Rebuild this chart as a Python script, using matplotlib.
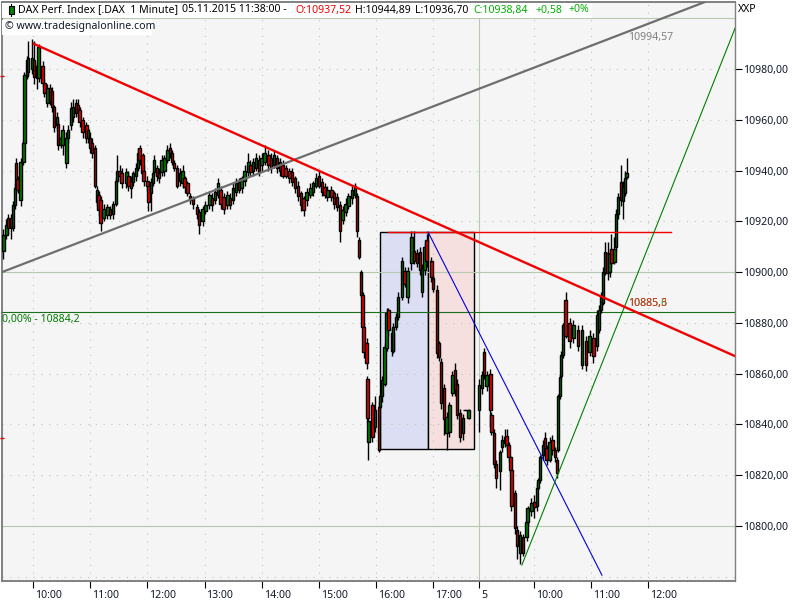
import matplotlib
matplotlib.use('Agg')
import matplotlib.pyplot as plt
from matplotlib.lines import Line2D
from matplotlib.patches import Rectangle
from matplotlib.transforms import ScaledTranslation

plt.rcParams['font.family'] = ['Noto Sans', 'DejaVu Sans']
plt.rcParams['font.size'] = 7.6

# Candles, x = minutes after 10:00 on the bar axis
minutes = [-31, -28, -26, -23, -21, -19, -18, -16, -13, -10, -9, -6, -5, -1, 1, 4, 6, 10, 12, 15,
           18, 20, 22, 25, 26, 29, 31, 35, 37, 40, 42, 45, 47, 49, 52, 56, 58, 60, 62, 65,
           67, 69, 71, 74, 78, 81, 84, 87, 88, 91, 93, 98, 100, 103, 105, 108, 110, 112, 115, 116,
           120, 121, 124, 126, 127, 130, 132, 135, 138, 141, 144, 146, 148, 151, 154, 157, 159, 162, 165, 168,
           172, 174, 178, 181, 185, 188, 191, 194, 197, 200, 204, 207, 210, 213, 216, 219, 222, 226, 228, 231,
           234, 237, 240, 243, 247, 250, 253, 256, 259, 262, 265, 269, 272, 275, 278, 281, 284, 287, 291, 294,
           297, 300, 303, 306, 309, 313, 316, 319, 322, 325, 328, 331, 335, 338, 340, 342, 344, 346, 347, 350,
           351, 352, 356, 359, 363, 364, 366, 369, 371, 373, 377, 378, 381, 383, 387, 390, 393, 397, 400, 403,
           406, 408, 411, 413, 418, 420, 424, 426, 428, 431, 434, 437, 440, 443, 445, 448, 451, 453, 455, 457,
           468, 471, 473, 476, 480, 481, 484, 486, 490, 492, 495, 497, 499, 501, 502, 506, 508, 511, 514, 518,
           519, 523, 526, 529, 530, 532, 535, 537, 539, 542, 545, 548, 550, 551, 553, 554, 556, 559, 563, 567,
           572, 576, 580, 584, 588, 592, 594, 596, 598, 600, 603, 605, 607, 610, 612, 614, 617, 619, 621, 623]

opens = [10908.5, 10914.5, 10921.5, 10921.5, 10917.5, 10926.5, 10943, 10936.5, 10928.5, 10943.5, 10951, 10977.5, 10979, 10980, 10983.5, 10981, 10976.5, 10981, 10974.5, 10966.5,
         10972.5, 10971.5, 10965, 10958, 10958.5, 10950, 10950, 10943, 10953, 10958, 10961, 10966.5, 10966, 10964, 10960, 10958, 10953, 10953, 10951, 10949,
         10927.5, 10930.5, 10928.5, 10921.5, 10922.5, 10925, 10923, 10927, 10936, 10940, 10939, 10935, 10938, 10936, 10935.5, 10938, 10941, 10949, 10946, 10940,
         10936, 10934, 10931, 10935, 10939.5, 10941, 10939, 10939.5, 10940, 10944, 10949, 10947, 10943, 10941, 10936, 10935, 10937, 10935, 10930, 10929,
         10925.5, 10923.5, 10920, 10924, 10926.5, 10929, 10928.5, 10930.5, 10932.5, 10929.5, 10926.5, 10929, 10928.5, 10931.5, 10935.5, 10933, 10936, 10939.5, 10942, 10940,
         10941, 10944, 10942, 10943.5, 10946, 10945, 10942, 10945, 10943.5, 10942, 10941, 10940, 10939.5, 10937, 10934, 10931, 10929, 10928.5, 10930.5, 10931.5,
         10934, 10938, 10935.5, 10933.5, 10929.5, 10932.5, 10931, 10929.5, 10926.5, 10920.5, 10923.5, 10926, 10929, 10930.5, 10930, 10912.5, 10900, 10891, 10878.5, 10872,
         10858, 10833, 10847.5, 10839, 10847, 10847, 10851, 10856, 10870, 10885, 10876, 10869, 10878.5, 10882.5, 10890, 10900.5, 10890, 10903.5, 10908.5, 10907.5,
         10908, 10892, 10901, 10912.5, 10904.5, 10897.5, 10893, 10872, 10864.5, 10854.5, 10836.5, 10837, 10852.5, 10861.5, 10856, 10844.5, 10836.5, 10845.5, 10845.5, 10842.5,
         10845.5, 10854.5, 10868.5, 10855, 10860, 10843.5, 10836.5, 10824.5, 10821.5, 10831, 10832.5, 10835.5, 10832, 10827, 10822, 10813, 10798.5, 10789.5, 10795.5, 10795.5,
         10801.5, 10806, 10809.5, 10808, 10815, 10818, 10828, 10834.5, 10830.5, 10826, 10834, 10830, 10826, 10830, 10851, 10859, 10867.5, 10889, 10880, 10874,
         10877, 10863.5, 10873, 10868.5, 10874, 10871, 10877, 10885, 10888, 10900, 10907.5, 10900, 10909, 10904, 10910, 10923, 10935.5, 10928, 10931, 10937.52]

highs = [10917, 10921, 10923, 10923, 10928, 10935, 10945, 10938, 10945, 10952, 10979, 10985, 10991, 10992, 10991, 10983, 10990, 10983, 10976, 10974,
         10974, 10973, 10966, 10963, 10960, 10954, 10958, 10955, 10958, 10967, 10968, 10968, 10968, 10965, 10961, 10959, 10957, 10955, 10953, 10950,
         10934, 10932, 10930, 10927, 10927, 10926, 10928, 10937, 10946, 10942, 10941, 10941, 10940, 10938, 10940, 10943, 10949, 10950, 10947, 10942,
         10938, 10935, 10937, 10940, 10946, 10942, 10941, 10946, 10946, 10950, 10951, 10948, 10944, 10942, 10941, 10942, 10938, 10936, 10931, 10930,
         10927, 10925, 10926, 10928, 10932, 10931, 10933, 10937, 10934, 10931, 10932, 10931, 10935, 10937, 10937, 10938, 10942, 10947, 10944, 10945,
         10947, 10946, 10947, 10950, 10948, 10947, 10948, 10946, 10945, 10944, 10942, 10941, 10941, 10938, 10936, 10932, 10930, 10933, 10935, 10936,
         10939, 10940, 10937, 10935, 10934, 10934, 10932, 10931, 10928, 10926, 10929, 10931, 10934, 10935, 10931, 10914, 10901, 10892, 10880, 10874,
         10859, 10843, 10849, 10851, 10849, 10852, 10859, 10872, 10886, 10886, 10878, 10880, 10884, 10892, 10906, 10902, 10902, 10916, 10916, 10909,
         10910, 10903, 10912, 10915, 10906, 10899, 10895, 10873, 10866, 10856, 10845, 10849, 10861, 10864, 10858, 10846, 10844, 10845.5, 10845.5, 10846,
         10858, 10861, 10870, 10861, 10862, 10845, 10838, 10826, 10830, 10836, 10838, 10838, 10833, 10828, 10823, 10814, 10800, 10798, 10797, 10803,
         10808, 10811, 10812, 10817, 10819, 10828, 10834, 10837, 10832, 10835, 10836, 10831, 10827, 10852, 10860, 10869, 10880, 10892, 10882, 10881,
         10879, 10879, 10875, 10877, 10876, 10885, 10887, 10892, 10902, 10912, 10912, 10909, 10915, 10914, 10925, 10931, 10942, 10936, 10940, 10944.89]

lows = [10905, 10913, 10915, 10913, 10916, 10925, 10931, 10931, 10926, 10942, 10950, 10976, 10977, 10978, 10974, 10972, 10975, 10973, 10969, 10965,
        10966, 10963, 10955, 10956, 10948, 10949, 10946, 10941, 10951, 10956, 10959, 10961, 10961, 10957, 10953, 10951, 10951, 10947, 10945, 10933,
        10926, 10922, 10916, 10920, 10921, 10921, 10921, 10926, 10935, 10936, 10933, 10933, 10932, 10929, 10934, 10936, 10940, 10942, 10937, 10934,
        10932, 10924, 10924, 10934, 10938, 10936, 10935, 10938, 10938, 10943, 10945, 10942, 10940, 10933, 10934, 10933, 10931, 10930, 10927, 10925,
        10921, 10915, 10918, 10923, 10925, 10924, 10927, 10929, 10925, 10923, 10925, 10925, 10927, 10930, 10931, 10931, 10934, 10938, 10938, 10938,
        10940, 10938, 10940, 10942, 10940, 10939, 10941, 10939, 10938, 10937, 10937, 10935, 10934, 10931, 10928, 10924, 10922, 10926, 10929, 10930,
        10933, 10933, 10930, 10929, 10928, 10928, 10925, 10924, 10912, 10919, 10922, 10925, 10927, 10929, 10914, 10905, 10890, 10877, 10866, 10862,
        10841, 10826, 10833, 10837, 10829, 10846, 10849, 10855, 10869, 10875, 10867, 10868, 10877, 10881, 10889, 10894, 10888, 10901, 10903, 10902,
        10899, 10890, 10899, 10902, 10896, 10892, 10866, 10865, 10846, 10836, 10830, 10835, 10851, 10851, 10842, 10833, 10834, 10845.5, 10845.5, 10842,
        10837, 10852, 10858, 10853, 10839, 10836, 10823, 10815, 10814, 10829, 10831, 10830, 10825, 10821, 10806, 10797, 10787, 10785, 10788, 10794,
        10800, 10804, 10803, 10806, 10814, 10817, 10826, 10827, 10824, 10825, 10828, 10825, 10819, 10829, 10850, 10858, 10866, 10874, 10870, 10872,
        10869, 10862, 10861, 10867, 10864, 10869, 10876, 10884, 10887, 10899, 10897, 10898, 10902, 10903, 10908, 10921, 10926, 10921, 10930, 10936.7]

closes = [10914.5, 10918.5, 10917.5, 10917.5, 10926.5, 10933, 10933, 10932.5, 10943.5, 10951, 10977.5, 10983.5, 10984.5, 10984.5, 10977, 10976.5, 10988.5, 10974.5, 10970.5, 10972.5,
          10967.5, 10965, 10957, 10961, 10950, 10953, 10956, 10953, 10956, 10964.5, 10965, 10962.5, 10963, 10959, 10955, 10953, 10956, 10949, 10947, 10934,
          10932.5, 10924.5, 10919.5, 10925, 10925.5, 10922.5, 10927, 10936, 10940, 10938, 10935, 10939.5, 10934, 10933, 10939, 10941, 10947, 10944, 10939, 10936,
          10934, 10927.5, 10935.5, 10939, 10944, 10938, 10937, 10944, 10945, 10948, 10947, 10943.5, 10941, 10934, 10939, 10940, 10933.5, 10931, 10928.5, 10927,
          10923, 10918.5, 10925, 10926.5, 10930.5, 10926.5, 10931.5, 10935, 10927, 10925, 10930.5, 10926.5, 10933, 10935, 10932.5, 10937, 10940, 10943.5, 10939.5, 10943.5,
          10945, 10939.5, 10945, 10947, 10942, 10941, 10946, 10941, 10940, 10938, 10938, 10937, 10935.5, 10933, 10930, 10926.5, 10924.5, 10931.5, 10933, 10935,
          10937, 10934, 10931.5, 10930.5, 10932.5, 10929.5, 10927, 10925.5, 10916, 10924.5, 10927, 10930, 10932.5, 10934, 10916, 10906, 10891, 10878.5, 10868.5, 10864,
          10842.5, 10841.5, 10835, 10845.5, 10830, 10851, 10857.5, 10870.5, 10884, 10877, 10869, 10878.5, 10882.5, 10890, 10904.5, 10895.5, 10900.5, 10914, 10904.5, 10903.5,
          10901, 10901.5, 10910, 10904.5, 10898, 10893.5, 10868, 10866.5, 10848.5, 10842, 10843, 10847.5, 10859.5, 10853.5, 10843.5, 10835, 10842.5, 10845.5, 10845.5, 10845.5,
          10855.5, 10859.5, 10859.5, 10859.5, 10845.5, 10837, 10824.5, 10819, 10829, 10834, 10835, 10832, 10827, 10822, 10808, 10799, 10792, 10796.5, 10789.5, 10801.5,
          10807, 10809, 10807.5, 10815, 10818, 10827, 10832, 10828.5, 10826, 10833, 10830, 10827, 10821, 10851, 10858.5, 10867.5, 10879, 10875, 10873, 10879,
          10871, 10877, 10863.5, 10875, 10867, 10883, 10885, 10890, 10900, 10908, 10899.5, 10907, 10903.5, 10909, 10923, 10929.5, 10928.5, 10933.5, 10937, 10938.84]

# Trend lines and levels
red_trend_x = [1, 736.6]
red_trend_y = [10989.9, 10866.9]
gray_trend_x = [-32.5, 705]
gray_trend_y = [10900, 11006.4]
blue_x = [414.5, 597]
blue_y = [10915.8, 10780.6]
green_x = [513, 736.6]
green_y = [10784.6, 10996]
resist_x = [372, 669.5]
resist_y = [10915.8, 10915.8]
fib_level = 10884.2
left_marks = [10977.3, 10834.6]

box_left = [364, 414.5]
box_right = [414.5, 462.7]
box_low = 10830.3
box_high = 10915.8

y_ticks = [10800, 10820, 10840, 10860, 10880, 10900, 10920, 10940, 10960, 10980]
y_dots = [10780] + y_ticks
y_major = [10800, 10900, 11000]
x_ticks = [0, 60, 120, 180, 240, 300, 360, 420, 468, 526, 586, 645]
x_labels = ['10:00', '11:00', '12:00', '13:00', '14:00', '15:00', '16:00', '17:00', '5', '10:00', '11:00', '12:00']
day_break = 468

grid_col = '#b7c9b0'
frame_col = '#808080'


# place text by picture pixels
def px_text(x, y, s, **kw):
    return fig.text(x / 800, 1 - y / 600, s, va='center', ha='left', **kw)


fig = plt.figure(figsize=(8, 6), dpi=100, facecolor='white')
ax = fig.add_axes([2 / 800, 1 - 581 / 600, 733 / 800, 579 / 600], facecolor='#f5f5f5')
ax.set_xlim(-32.5, 736.6)
ax.set_ylim(10778.3, 11006.4)

# grid
for t in x_ticks:
    if t == day_break:
        ax.axvline(t, color=grid_col, lw=0.8, zorder=2)
    else:
        ax.axvline(t, color=grid_col, lw=0.8, ls=(0, (1, 6)), zorder=2)
for v in y_dots:
    ax.axhline(v, color=grid_col, lw=0.8, ls=(0, (1, 6)), zorder=2)
for v in y_major:
    ax.axhline(v, color=grid_col, lw=0.8, zorder=2)

# boxes
ax.add_patch(Rectangle((box_left[0], box_low), box_left[1] - box_left[0], box_high - box_low,
                       facecolor='#dcdff3', edgecolor='black', lw=1, zorder=1))
ax.add_patch(Rectangle((box_right[0], box_low), box_right[1] - box_right[0], box_high - box_low,
                       facecolor='#f5dfdf', edgecolor='black', lw=1, zorder=1))
ax.axhline(fib_level, color='#1a701a', lw=0.8, zorder=3)

# candles
colors = ['#007f00' if c > o else ('#f00000' if c < o else 'black') for o, c in zip(opens, closes)]
ax.vlines(minutes, lows, highs, color='black', lw=1, zorder=4)
ax.bar(minutes, [c - o for o, c in zip(opens, closes)], bottom=opens, width=2.6,
       color=colors, edgecolor='black', linewidth=1, zorder=5)

# drawn lines
ax.plot(gray_trend_x, gray_trend_y, color='#6e6e6e', lw=1.6, zorder=6)
ax.plot(resist_x, resist_y, color='#f00000', lw=1, zorder=6)
ax.plot(blue_x, blue_y, color='#0000e0', lw=0.8, zorder=6)
ax.plot(green_x, green_y, color='#008000', lw=0.8, zorder=6)
ax.plot(red_trend_x, red_trend_y, color='#f00000', lw=1.7, zorder=7)
ax.plot([-32.5, -32.5], left_marks, ls='none', marker='_', ms=3, color='#f00000', clip_on=False, zorder=7)

# labels inside the plot
ax.text(624, 10887.8, '10885,6', color='#2e9a2e', va='center', zorder=8)
ax.text(624, 10887.8, '10885,3', color='#e03020', va='center', zorder=8)
ax.text(624.5, 10992.3, '10994,57', color='#808080', va='center', zorder=8)
ax.text(-32, 10881.5, '0,00% - 10884,2', color='#007a00', va='center', zorder=8)

# axes
for s in ax.spines.values():
    s.set_color(frame_col)
ax.spines['bottom'].set_linewidth(1.4)
ax.spines['left'].set_linewidth(1.4)
ax.spines['top'].set_linewidth(1.4)
ax.spines['right'].set_linewidth(1)

ax.yaxis.tick_right()
ax.set_yticks(y_ticks)
ax.set_yticklabels([f'{v},00' for v in y_ticks], color='#101828')
ax.tick_params(axis='y', length=5, width=0.8, color='black', pad=1)
ax.set_xticks(x_ticks)
ax.set_xticklabels(x_labels, ha='left', color='#101828')
ax.tick_params(axis='x', length=5, width=0.8, color='black', pad=1.5)
shift = ScaledTranslation(2 / 100, 0, fig.dpi_scale_trans)
for lab in ax.get_xticklabels():
    lab.set_transform(lab.get_transform() + shift)

# header line
fig.add_artist(Rectangle((2 / 800, 1 - 18 / 600), 590 / 800, 15 / 600, transform=fig.transFigure,
                         facecolor='white', edgecolor='none', zorder=9))
fig.add_artist(Rectangle((2 / 800, 1 - 35 / 600), 150 / 800, 15 / 600, transform=fig.transFigure,
                         facecolor='white', edgecolor='none', zorder=9))
# candle icon in front of the name
fig.add_artist(Line2D([11 / 800, 11 / 800], [1 - 4 / 600, 1 - 16 / 600], color='black', lw=0.8, zorder=10))
fig.add_artist(Rectangle((8.5 / 800, 1 - 14 / 600), 5 / 800, 8 / 600, transform=fig.transFigure,
                         facecolor='#007f00', edgecolor='black', lw=0.8, zorder=11))
px_text(18, 10, 'DAX Perf. Index [.DAX  1 Minute]', color='black', zorder=12)
px_text(182, 10, '05.11.2015 11:38:00 -', color='black', zorder=12)
px_text(295, 10, 'O:10937,52', color='#f00000', zorder=12)
px_text(355, 10, 'H:10944,89', color='black', zorder=12)
px_text(415, 10, 'L:10936,70', color='black', zorder=12)
px_text(473, 10, 'C:10938,84', color='#00b000', zorder=12)
px_text(535, 10, '+0,58', color='#00b000', zorder=12)
px_text(568, 10, '+0%', color='#00b000', zorder=12)
px_text(5, 27, '© www.tradesignalonline.com', color='#101828', zorder=12)
px_text(738, 10, 'XXP', color='black')

fig.savefig('out.png', dpi=100)
